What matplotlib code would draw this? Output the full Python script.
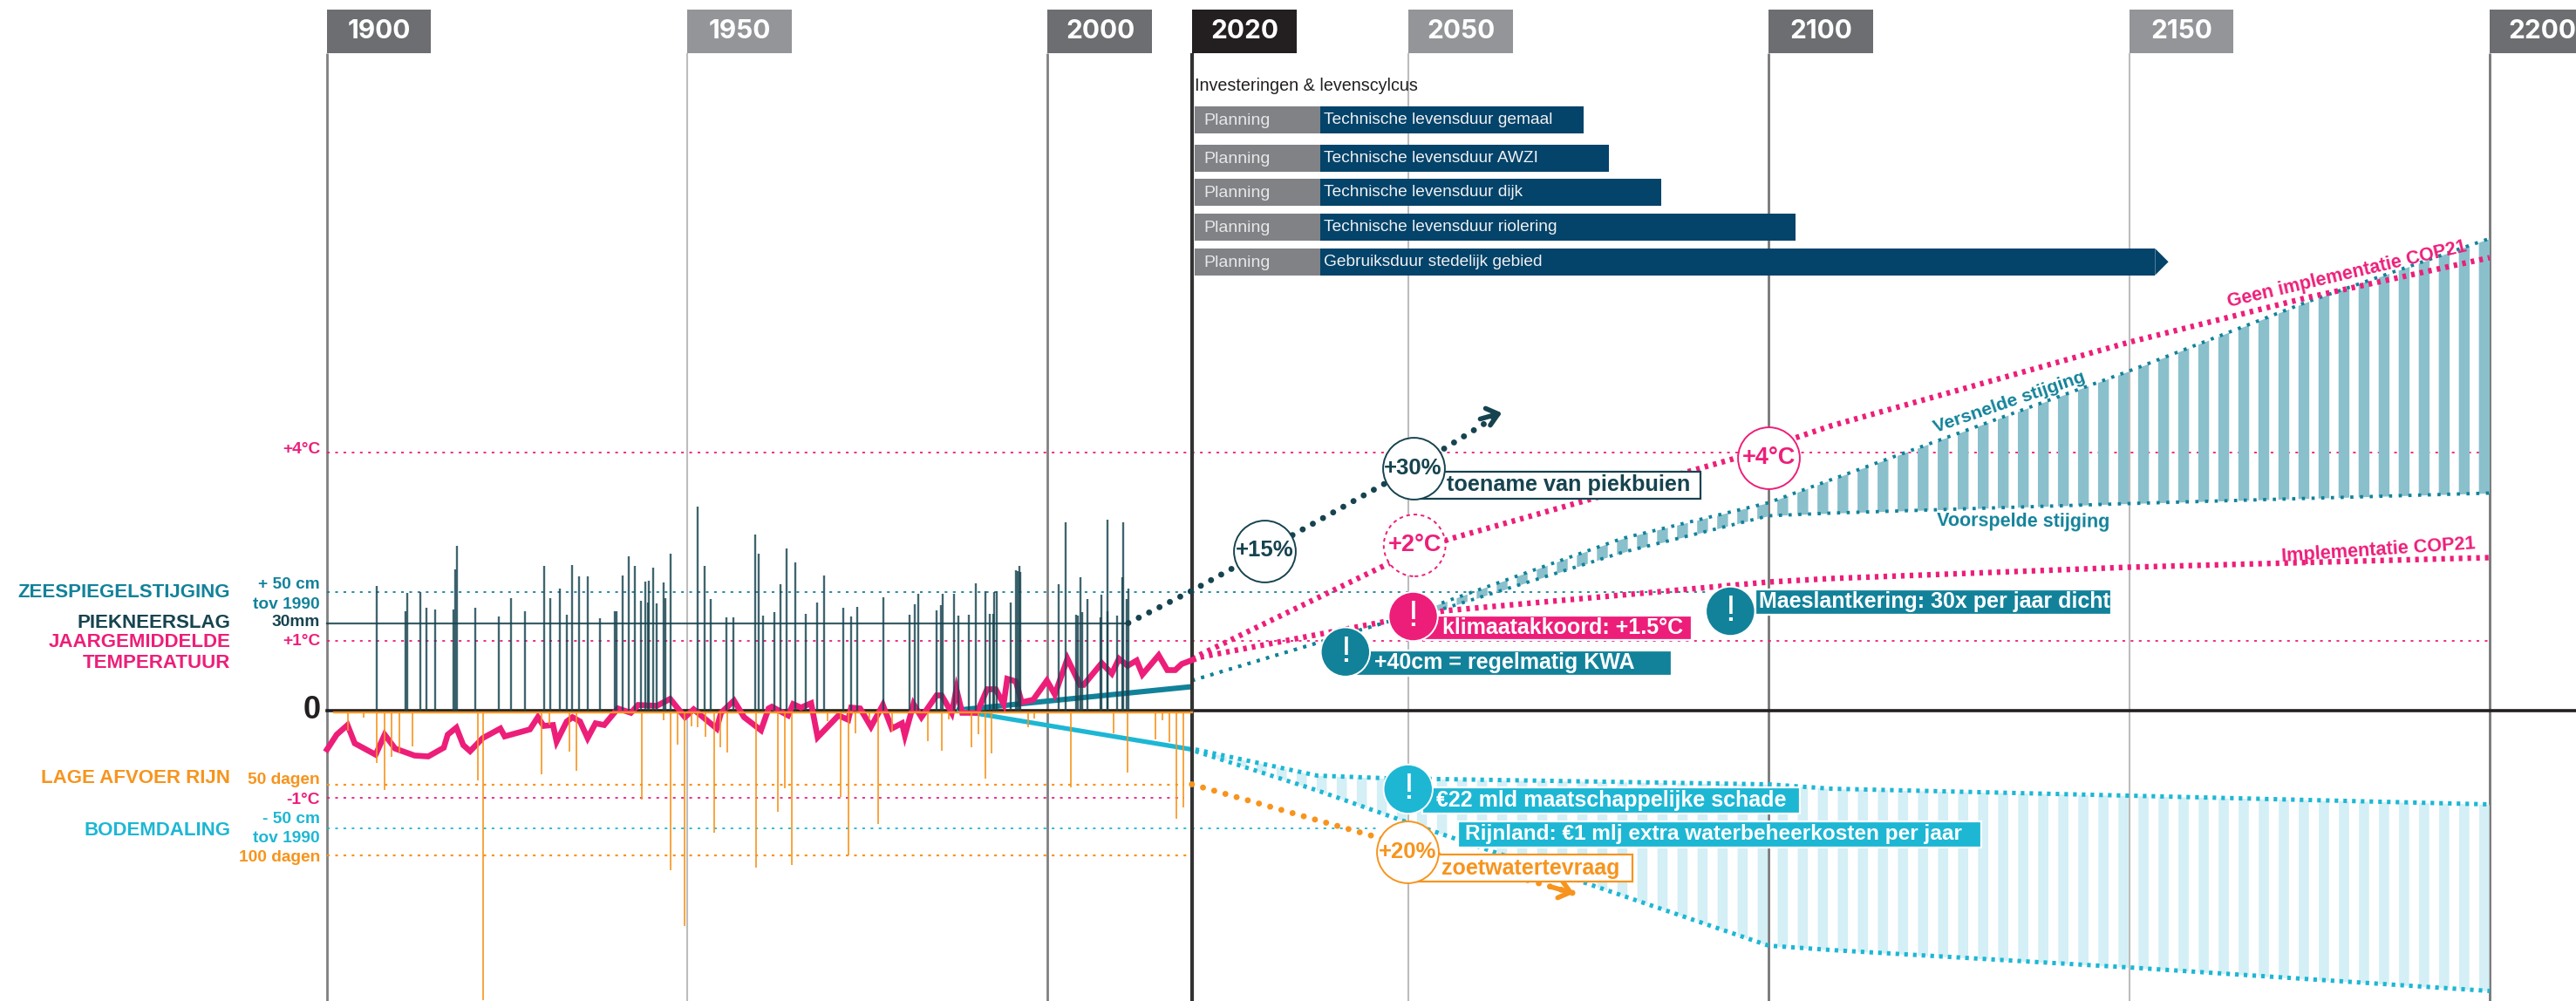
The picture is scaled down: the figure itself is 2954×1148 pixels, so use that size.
import numpy as np
import matplotlib
matplotlib.use('agg')
import matplotlib.pyplot as plt
from matplotlib.patches import Rectangle, Polygon

plt.rcParams['font.family'] = ['Liberation Sans', 'DejaVu Sans']
plt.rcParams['lines.scale_dashes'] = False

PINK = '#ed1e79'
TEAL = '#12829a'
CYAN = '#1db7d4'
ORANGE = '#f7941d'
DARK = '#16434f'
BLACK = '#231f20'
NAVY = '#04436a'
GREY = '#808285'

# jaartallen bovenaan
tab_years = [1900, 1950, 2000, 2020, 2050, 2100, 2150, 2200]
tab_colors = ['#6d6e71', '#939598', '#6d6e71', BLACK, '#939598', '#6d6e71', '#939598', '#6d6e71']
line_colors = ['#808080', '#bdbdbd', '#808080', '#333333', '#bdbdbd', '#777777', '#bdbdbd', '#777777']
line_widths = [2.0, 1.5, 2.0, 3.0, 1.5, 2.0, 1.5, 2.0]

# investeringen
gantt_labels = ['Technische levensduur gemaal', 'Technische levensduur AWZI', 'Technische levensduur dijk',
                'Technische levensduur riolering', 'Gebruiksduur stedelijk gebied']
gantt_rows = [677.2, 633.2, 594.2, 554.2, 514.2]
gantt_end = [2074.35, 2077.9, 2085.05, 2103.7, 2153.6]
planning_start = 2020.45
planning_end = 2037.85

# piekneerslag, hoogte in grafiekeenheden (30mm = 100)
rain_years = [1907.0, 1910.9, 1911.2, 1913.0, 1913.9, 1915.0, 1917.6, 1917.8, 1918.1, 1920.6, 1923.9, 1925.6,
              1927.5, 1930.2, 1931.0, 1932.4, 1933.3, 1934.1, 1935.0, 1936.2, 1937.9, 1940.0, 1940.2, 1941.1,
              1941.9, 1942.8, 1943.65, 1944.2, 1944.6, 1944.7, 1945.35, 1945.8, 1946.7, 1947.0, 1947.65, 1951.5,
              1952.4, 1953.3, 1955.5, 1956.4, 1959.45, 1959.9, 1960.5, 1962.05, 1963.0, 1963.8, 1965.0, 1966.5,
              1968.0, 1969.05, 1971.6, 1972.75, 1973.55, 1977.25, 1980.8, 1981.6, 1982.1, 1984.6, 1985.25, 1985.4,
              1987.0, 1987.65, 1989.1, 1990.05, 1991.4, 1992.0, 1992.4, 1992.6, 1993.0, 1994.9, 1995.55, 1995.8,
              1996.05, 1996.25, 2001.5, 2002.5, 2004.0, 2004.2, 2004.5, 2004.75, 2005.55, 2007.3, 2007.5, 2008.3,
              2008.35, 2009.6, 2010.3, 2010.45, 2011.0, 2011.2]
rain_values = [143, 114, 135, 136, 118, 116, 116, 162, 189, 118, 108, 129,
               114, 166, 129, 140, 110, 167, 154, 154, 106, 114, 114, 155,
               177, 166, 126, 148, 124, 149, 164, 123, 147, 129, 180, 234,
               166, 128, 107, 107, 202, 180, 109, 113, 145, 186, 170, 111,
               124, 155, 118, 108, 119, 130, 110, 122, 134, 115, 121, 134,
               134, 109, 110, 146, 137, 111, 111, 136, 137, 124, 161, 160,
               166, 159, 145, 216, 110, 109, 153, 113, 128, 107, 133, 114,
               219, 109, 153, 216, 128, 140]

# lage afvoer rijn
flow_years = [1903, 1905.1, 1907, 1908, 1909, 1910.1, 1911.9, 1920.95, 1921.75, 1929.8, 1930.9, 1933.65, 1934.6,
              1943.7, 1946.8, 1947.65, 1948.65, 1949.6, 1950.65, 1951.5, 1952.5, 1953.7, 1954.6, 1955.55, 1959.6,
              1962.6, 1963.55, 1964.5, 1969.5, 1971.35, 1972.35, 1973.35, 1975.3, 1976.5, 1978.4, 1983.4, 1985.3,
              1986.35, 1989.4, 1990.35, 1991.4, 1992.2, 1997.3, 1998.2, 2003.25, 2009.1, 2011.1, 2015, 2015.9,
              2016.9, 2017.8, 2018.85]
flow_values = [-23, -8, -60, -91, -53, -48, -41, -80, -332, -73, -16, -47, -69,
               -102, -11, -183, -39, -247, -18, -19, -30, -140, -42, -48, -180,
               -116, -89, -177, -12, -99, -166, -26, -10, -130, -24, -35, -46,
               -10, -42, -27, -78, -49, -19, -9, -88, -26, -71, -33, -11,
               -36, -124, -111]

# jaargemiddelde temperatuur
temp_years = [1900.06, 1901.4, 1902.9, 1903.9, 1906.8, 1908.05, 1909.5, 1912.2, 1914.1, 1916.25, 1916.8, 1918,
              1918.95, 1919.9, 1921.65, 1924.1, 1924.7, 1928.2, 1929.3, 1930.1, 1931.4, 1931.9, 1933.3, 1934.1,
              1935.15, 1936.2, 1937.3, 1938.5, 1940.4, 1942.2, 1943.2, 1945.8, 1947.65, 1949.7, 1950.9, 1954.1,
              1954.7, 1956.5, 1957.9, 1960.25, 1961.3, 1961.75, 1964, 1964.7, 1965.8, 1967.2, 1968.1, 1971,
              1972.35, 1972.75, 1974, 1975.5, 1977.15, 1978.4, 1979.8, 1980.2, 1981.4, 1982.5, 1984.6, 1985.3,
              1986.7, 1987.35, 1988.15, 1990.2, 1991.6, 1992.8, 1993.9, 1994.4, 1995.6, 1996.4, 1998, 1999.9,
              2001, 2002.75, 2004.5, 2005, 2007.5, 2008.9, 2009.9, 2011.1, 2012.35, 2013.15, 2015.4, 2016.6,
              2017.7, 2018.6, 2020.2]
temp_values = [-45, -28, -17, -38, -51, -28, -44, -52, -53, -43, -28, -20,
               -40, -47, -32, -21, -30, -22, -8, -18, -17, -36, -13, -8,
               -13, -32, -15, -17, 2, -3, 6, 5, 13, -8, 1, -21,
               -3, 11, -8, -23, 2, 4, -6, 7, 3, 8, -31, -6,
               -11, 3, 2, -19, 6, -21, -15, -29, 7, -8, 17, 17,
               -3, 24, -3, -3, 24, 24, 7, 36, 33, 9, 12, 34,
               18, 59, 29, 29, 54, 42, 59, 51, 57, 41, 63, 46,
               46, 53, 58]

# gemeten trends
sea_hist_years = [1987.4, 2020]
sea_hist = [0, 27]
soil_hist_years = [1987.4, 2020]
soil_hist = [0, -45]

# scenario's
rain_proj_years = [2011.2, 2020, 2030.1, 2050.7, 2063]
rain_proj = [100, 137, 183, 278, 341]
temp_high_years = [2020, 2047, 2055.6, 2095, 2108.6, 2150, 2174.6, 2200]
temp_high = [59, 167, 196, 288, 326, 422, 473, 519]
temp_low_years = [2020, 2047, 2055, 2100, 2108.6, 2150, 2200]
temp_low = [59, 102, 114, 147, 151, 164, 175]
sea_up_years = [2020, 2047, 2054, 2079.7, 2100, 2114.8, 2150, 2174.6, 2200]
sea_up = [34, 101, 121, 197, 238, 283, 389, 468, 541]
sea_low_years = [2020, 2047, 2054, 2079.7, 2100, 2108.6, 2150, 2200]
sea_low = [34, 101, 114, 181, 223, 226, 237, 249]
soil_up_years = [2020.5, 2037.4, 2047, 2100, 2108.6, 2150, 2200]
soil_up = [-45, -75, -78, -85, -90, -98, -108]
soil_low_years = [2020.5, 2037.4, 2049, 2061, 2073.5, 2100, 2108.6, 2150, 2200]
soil_low = [-47, -92, -126, -160, -195, -270, -275, -295, -322]
demand_years = [2020, 2045.4, 2073]
demand = [-85, -145, -210]

# referentielijnen
ref_values = [296, 136, 80, -85, -100, -135, -166]
ref_ends = [2200, 2091.5, 2200, 2018.9, 2018.9, 2045.5, 2019.5]
ref_colors = [PINK, TEAL, PINK, ORANGE, PINK, CYAN, ORANGE]
ref_widths = [1.3, 1.3, 1.3, 1.6, 1.3, 1.3, 1.6]

fig = plt.figure(figsize=(29.54, 11.48), dpi=100)
ax = fig.add_axes([0, 0, 1, 1])
ax.set_xlim(1854.7, 2211.98)
ax.set_ylim(-333.5, 814.5)
ax.axis('off')

# tabs + verticale lijnen
ax.bar(tab_years, 50, width=14.5, bottom=753.5, align='edge', color=tab_colors, zorder=2)
for y, c, w in zip(tab_years, line_colors, line_widths):
    ax.vlines(y, -333.5, 753.5, color=c, lw=w, zorder=1 if y != 2020 else 6)
    ax.text(y + 7.3, 778, str(y), color='white', size=21.5, weight='bold', family=['Inter', 'Liberation Sans'],
            ha='center', va='center', zorder=3)

# investeringen
ax.text(planning_start, 715.8, 'Investeringen & levenscylcus', size=14.2, color=BLACK, va='center', zorder=3)
ax.barh(gantt_rows, planning_end - planning_start, left=planning_start, height=30.7, color=GREY, zorder=2)
ax.barh(gantt_rows, np.array(gantt_end) - planning_end, left=planning_end, height=30.7, color=NAVY, zorder=2)
ax.add_patch(Polygon([(gantt_end[-1], gantt_rows[-1] + 15.35), (gantt_end[-1] + 1.85, gantt_rows[-1]),
                      (gantt_end[-1], gantt_rows[-1] - 15.35)], color=NAVY, lw=0, zorder=2))
for r, t in zip(gantt_rows, gantt_labels):
    ax.text(2021.65, r - 1.5, 'Planning', size=14, color='#e6e7e8', va='center', zorder=3)
    ax.text(2038.3, r, t, size=13.8, color='#f1f2f2', va='center', zorder=3)

# referentielijnen
for v, e, c, w in zip(ref_values, ref_ends, ref_colors, ref_widths):
    ax.plot([1900, e], [v, v], color=c, lw=w, ls=(0, (2.2, 4.6)), zorder=2)
ax.plot([1900, 2011.2], [100, 100], color=DARK, lw=1.6, alpha=0.85, zorder=2)

# banen met scenario's als strepen
for x in np.arange(2199.2, 2054, -2.78):
    xs = [x - 0.75, x + 0.75]
    ax.fill_between(xs, np.interp(xs, sea_low_years, sea_low), np.interp(xs, sea_up_years, sea_up),
                    color='#8ac0cc', lw=0, zorder=3)
for x in np.arange(2199.2, 2024, -2.78):
    xs = [x - 0.7, x + 0.7]
    ax.fill_between(xs, np.interp(xs, soil_low_years, soil_low), np.interp(xs, soil_up_years, soil_up),
                    color='#d4eff5', lw=0, zorder=3)

# nullijn
ax.plot([1900, 2211.98], [0, 0], color=BLACK, lw=2.6, zorder=4)

# meetreeksen
ax.plot(sea_hist_years, sea_hist, color=TEAL, lw=4.4, solid_capstyle='butt', zorder=5)
ax.plot(soil_hist_years, soil_hist, color=CYAN, lw=3.8, solid_capstyle='butt', zorder=5)
ax.plot(temp_years, temp_values, color=PINK, lw=4.8, solid_joinstyle='miter', zorder=6)
ax.vlines(rain_years, 0, rain_values, color=DARK, lw=1.7, alpha=0.82, zorder=7)
ax.vlines(flow_years, -2, flow_values, color=ORANGE, lw=1.4, alpha=0.85, zorder=7)
ax.plot([1901, 2020], [-2, -2], color=ORANGE, lw=1.7, zorder=7)

# projecties
ax.plot(sea_up_years, sea_up, color=TEAL, lw=2.8, ls=(0, (2.6, 5.4)), zorder=5)
ax.plot(sea_low_years, sea_low, color=TEAL, lw=2.8, ls=(0, (2.6, 5.4)), zorder=5)
ax.plot(soil_up_years, soil_up, color=CYAN, lw=3.6, ls=(0, (3.0, 4.2)), zorder=5)
ax.plot(soil_low_years, soil_low, color=CYAN, lw=3.6, ls=(0, (3.0, 4.2)), zorder=5)
ax.plot(temp_high_years, temp_high, color=PINK, lw=4.6, ls=(0, (3.0, 4.2)), zorder=5)
ax.plot(temp_low_years, temp_low, color=PINK, lw=4.6, ls=(0, (3.0, 4.2)), zorder=5)
ax.plot(rain_proj_years, rain_proj, color=DARK, lw=5.0, ls=(0, (0.01, 9.6)), dash_capstyle='round', zorder=8)
ax.plot(demand_years, demand, color=ORANGE, lw=5.0, ls=(0, (0.01, 9.6)), dash_capstyle='round', zorder=8)
ax.annotate('', xy=(rain_proj_years[-1], rain_proj[-1]), xytext=(2060, 334),
            arrowprops=dict(arrowstyle='->,head_length=0.55,head_width=0.45', color=DARK, lw=4,
                            shrinkA=0, shrinkB=0, mutation_scale=16), zorder=8)
ax.annotate('', xy=(demand_years[-1], demand[-1]), xytext=(2070, -203),
            arrowprops=dict(arrowstyle='->,head_length=0.55,head_width=0.45', color=ORANGE, lw=4,
                            shrinkA=0, shrinkB=0, mutation_scale=16), zorder=8)

# labels links
left_labels = ['ZEESPIEGELSTIJGING', 'PIEKNEERSLAG', 'JAARGEMIDDELDE', 'TEMPERATUUR', 'LAGE AFVOER RIJN', 'BODEMDALING']
left_pos = [135, 100.5, 77.5, 54.5, -77.5, -138.5]
left_colors = [TEAL, DARK, PINK, PINK, ORANGE, CYAN]
for t, p, c in zip(left_labels, left_pos, left_colors):
    ax.text(1886.67, p, t, color=c, size=16, weight='bold', ha='right', va='center')

tick_labels = ['+4°C', '+ 50 cm', 'tov 1990', '30mm', '+1°C', '50 dagen', '-1°C', '- 50 cm', 'tov 1990', '100 dagen']
tick_pos = [299.5, 144, 121.5, 101, 78.5, -80, -103.5, -124.5, -147, -168.5]
tick_colors = [PINK, TEAL, TEAL, DARK, PINK, ORANGE, PINK, CYAN, CYAN, ORANGE]
for t, p, c in zip(tick_labels, tick_pos, tick_colors):
    ax.text(1899.1, p, t, color=c, size=13.8, weight='bold', ha='right', va='center')
ax.text(1899.2, 0, '0', color=BLACK, size=26, weight='bold', ha='right', va='center')

# schuine labels
ax.text(2180.2, 500, 'Geen implementatie COP21', color=PINK, size=15.5, weight='bold', rotation=13.2, ha='center', va='center', zorder=9)
ax.text(2133.4, 353.5, 'Versnelde stijging', color=TEAL, size=15.3, weight='bold', rotation=18.9, ha='center', va='center', zorder=9)
ax.text(2135.3, 216.5, 'Voorspelde stijging', color=TEAL, size=15.5, weight='bold', rotation=-0.5, ha='center', va='center', zorder=9)
ax.text(2184.6, 183.5, 'Implementatie COP21', color=PINK, size=15.6, weight='bold', rotation=3.8, ha='center', va='center', zorder=9)

# tekstblokken
box_text = ['toename van piekbuien', 'klimaatakkoord: +1.5°C', '+40cm = regelmatig KWA',
            'Maeslantkering: 30x per jaar dicht', '€22 mld maatschappelijke schade',
            'Rijnland: €1 mlj extra waterbeheerkosten per jaar', 'zoetwatertevraag']
box_x0 = [2050.6, 2052.2, 2042.65, 2098.2, 2052, 2056.9, 2049.9]
box_x1 = [2090.55, 2089.3, 2086.55, 2147.5, 2104.3, 2129.5, 2081.1]
box_bottom = [242.8, 80.2, 39.8, 109.5, -118.2, -157.2, -196.5]
box_height = [31, 28.6, 28.7, 29, 30, 29.7, 31]
box_text_x = [2055.4, 2054.8, 2045.3, 2098.7, 2053.9, 2057.9, 2054.65]
box_face = ['white', PINK, TEAL, TEAL, CYAN, CYAN, 'white']
box_edge = [DARK, 'white', 'white', 'white', 'white', 'white', ORANGE]
box_color = [DARK, 'white', 'white', 'white', 'white', 'white', ORANGE]
box_size = [18.2, 18, 18, 18, 18, 17.6, 18]
for i in range(len(box_text)):
    ax.add_patch(Rectangle((box_x0[i], box_bottom[i]), box_x1[i] - box_x0[i], box_height[i],
                           facecolor=box_face[i], edgecolor=box_edge[i], lw=1.6, zorder=10))
    ax.text(box_text_x[i], box_bottom[i] + box_height[i] / 2, box_text[i], color=box_color[i], size=box_size[i],
            weight='bold', va='center', zorder=11)

# cirkels
circle_x = [2030.1, 2050.7, 2050.9, 2100, 2049.9]
circle_y = [183, 278, 189, 289.5, -162]
circle_text = ['+15%', '+30%', '+2°C', '+4°C', '+20%']
circle_color = [DARK, DARK, PINK, PINK, ORANGE]
circle_style = ['-', '-', (0, (3, 3)), '-', '-']
circle_size = [18.5, 18.5, 19.5, 19.5, 18.5]
for i in range(len(circle_x)):
    ax.scatter(circle_x[i], circle_y[i], s=2600, facecolor='white', edgecolor=circle_color[i], lw=1.4,
               linestyle=circle_style[i], zorder=12)
    ax.text(circle_x[i], circle_y[i], circle_text[i], color=circle_color[i], size=circle_size[i], weight='bold',
            ha='center', va='center', zorder=13)

alert_x = [2050.7, 2041.3, 2094.7, 2050]
alert_y = [107.5, 66.8, 113.5, -90.5]
alert_color = [PINK, TEAL, TEAL, CYAN]
ax.scatter(alert_x, alert_y, s=1650, c=alert_color, edgecolor='white', lw=1.4, zorder=12)
for x, y in zip(alert_x, alert_y):
    ax.text(x, y, '!', color='white', size=31, ha='center', va='center', zorder=13)

fig.savefig('out.png', dpi=100)
